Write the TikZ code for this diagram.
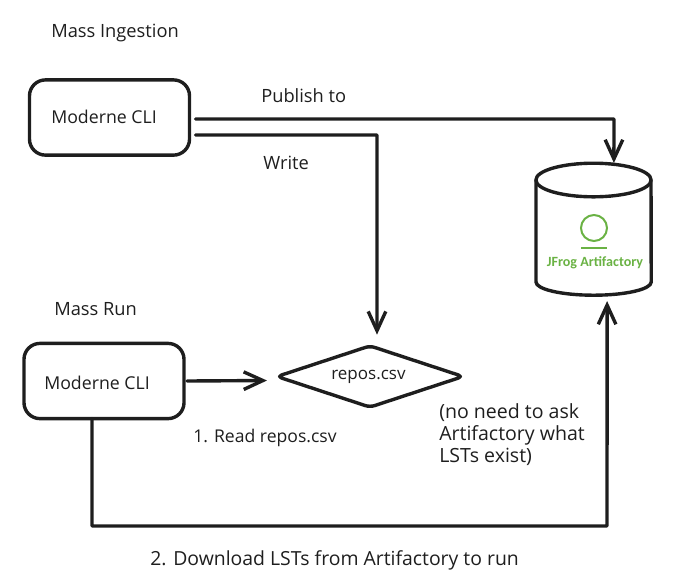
\documentclass[tikz,border=0pt]{standalone}
\usepackage{fontspec}
\setmainfont{Open Sans}
\newfontfamily\logofont{Carlito}
\usetikzlibrary{arrows.meta, shapes.geometric}
\definecolor{frog}{HTML}{6AB244}
\definecolor{ink}{HTML}{1E1E1E}
\tikzset{
  sketch/.style={draw=ink, line width=0.085cm, line join=round, line cap=round},
  hand/.style={text=ink, font=\fontsize{13}{15.6}\selectfont, inner sep=0, anchor=west},
  clibox/.style={sketch, rectangle, rounded corners=0.4cm, minimum width=4cm, minimum height=1.88cm, outer sep=0},
  flow/.style={sketch, -{Straight Barb[length=0.48cm, width=0.44cm, line width=0.085cm]}},
}
\begin{document}
\begin{tikzpicture}[x=0.025cm, y=-0.025cm]
    \useasboundingbox (0, 0) rectangle (675, 587);
    % ingestion
    \node [hand]    (ingesttitle) at (51, 33)  {Mass Ingestion};
    \node [clibox]  (ingestcli)   at (109.5, 117.5) {};
    \node [hand, font=\fontsize{12.6}{15}\selectfont] (ingestname) at (51, 117) {Moderne CLI};
    % run
    \node [hand]    (runtitle)    at (54, 309) {Mass Run};
    \node [clibox]  (runcli)      at (104, 381) {};
    \node [hand, font=\fontsize{12.6}{15}\selectfont] (runname) at (44, 383) {Moderne CLI};
    % csv
    \node [sketch, diamond, aspect=3, rounded corners=0.12cm, inner sep=0, minimum width=4.65cm, minimum height=1.53cm, outer sep=0]
                    (repos)       at (370, 376.5) {};
    \node [hand, font=\fontsize{12.1}{15}\selectfont] (reposname) at (331, 377) {repos.csv};
    % store
    \node [inner sep=0, outer sep=0, minimum width=2.875cm, minimum height=3.3cm]
                    (store)       at (593.5, 229) {};
    \draw [sketch]  (593.5, 180) ellipse [x radius=1.44cm, y radius=0.42cm];
    \draw [sketch]  (536, 180) -- (536, 282) arc [start angle=180, end angle=360, x radius=1.44cm, y radius=0.33cm] -- (651, 180);
    \node [circle, draw=frog, line width=0.05cm, minimum size=0.65cm, inner sep=0]
                    (logoring)    at (594, 228) {};
    \node [inner sep=0, minimum width=0.65cm, minimum height=0.05cm, fill=frog]
                    (logobar)     at (594, 248) {};
    \node [text=frog, inner sep=0, font=\logofont\bfseries\fontsize{10}{12}\selectfont]
                    (logotext)    at (595, 263) {JFrog Artifactory};
    % labels
    \node [hand]    (publishlabel)  at (261, 96)  {Publish to};
    \node [hand]    (writelabel)    at (263, 163) {Write};
    \node [hand, font=\fontsize{12.5}{15}\selectfont] (readlabel) at (193, 438) {1. Read repos.csv};
    \node [hand, font=\fontsize{13.9}{15.6}\selectfont, align=left] (notelabel) at (439, 435) {(no need to ask\\Artifactory what\\LSTs exist)};
    \node [hand, font=\fontsize{13.8}{15.6}\selectfont] (downloadlabel) at (150, 560) {2. Download LSTs from Artifactory to run};
    % bends
    \coordinate (publishbend)  at (614, 119);
    \coordinate (writebend)    at (377, 135);
    \coordinate (downloadbend) at (92, 526);
    \coordinate (downloadup)   at (607, 526);
    % arrows
    \draw [flow]   ([shift={(6, 1.5)}]ingestcli.east) -- (publishbend) -- ([xshift=0.51cm]store.north);
    \draw [flow]   ([shift={(6, 17.5)}]ingestcli.east) -- (writebend) -- ([xshift=0.175cm, yshift=0.28cm]repos.north);
    \draw [flow]   ([shift={(3, 0)}]runcli.east) -- ([shift={(-10, 4)}]repos.west);
    \draw [flow]   ([xshift=-0.3cm]runcli.south) -- (downloadbend) -- (downloadup) -- ([xshift=0.34cm, yshift=-0.15cm]store.south);
\end{tikzpicture}
\end{document}
